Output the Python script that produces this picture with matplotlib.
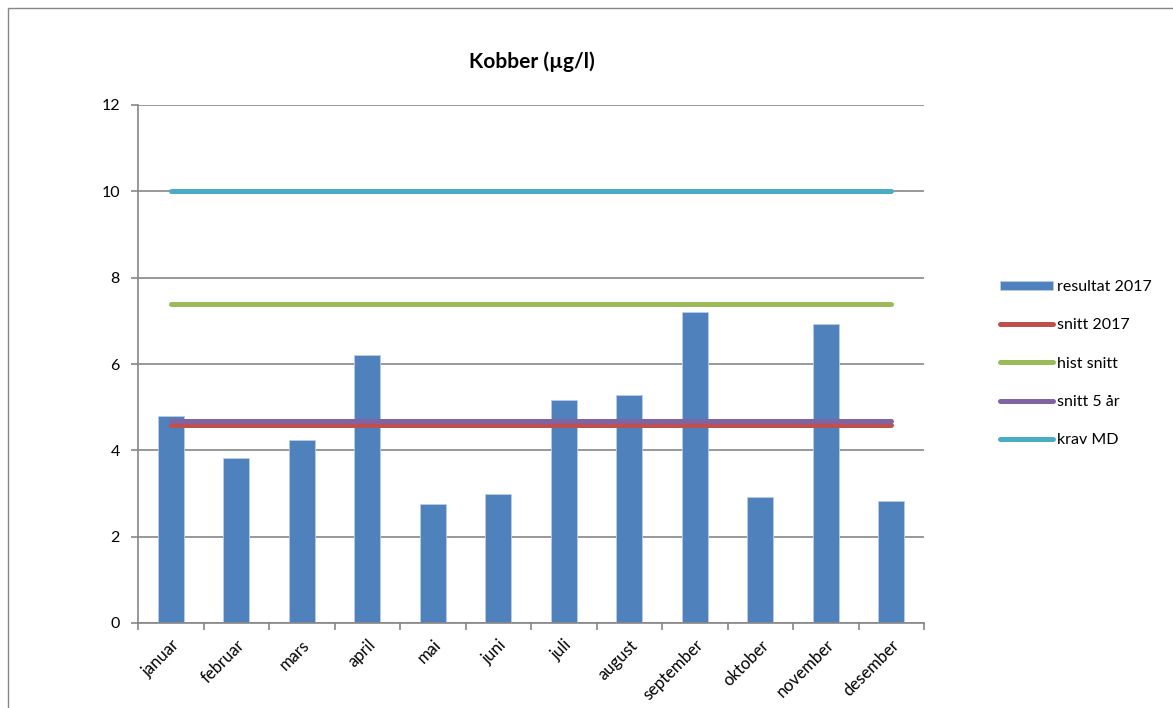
import numpy as np
import matplotlib.pyplot as plt
import matplotlib.patches as mpatches

# data
months = ["januar", "februar", "mars", "april", "mai", "juni",
          "juli", "august", "september", "oktober", "november", "desember"]
resultat_2017 = [4.80, 3.83, 4.24, 6.21, 2.76, 3.00, 5.17, 5.28, 7.21, 2.92, 6.93, 2.83]
snitt_2017 = [4.58] * 12
hist_snitt = [7.39] * 12
snitt_5_ar = [4.68] * 12
krav_md = [10.0] * 12
y_ticks = [0, 2, 4, 6, 8, 10, 12]

plt.rcParams['font.family'] = ['Lato', 'DejaVu Sans']

fig = plt.figure(figsize=(11.73, 7.08), dpi=100)
ax = fig.add_axes([138/1173, 1 - 623/708, (924-138)/1173, (623-105)/708])

x = np.arange(len(months))
grid_col = "#868686"
lw = 3.6

# bars
bars = ax.bar(x, resultat_2017, width=0.4, color="#4F81BD", edgecolor="#B9CDE5",
              linewidth=0.6, label="resultat 2017", zorder=2)

# average / requirement lines
l1, = ax.plot(x, snitt_2017, color="#C0504D", lw=lw, solid_capstyle="round", label="snitt 2017", zorder=3)
l2, = ax.plot(x, hist_snitt, color="#9BBB59", lw=lw, solid_capstyle="round", label="hist snitt", zorder=3)
l3, = ax.plot(x, snitt_5_ar, color="#8064A2", lw=lw, solid_capstyle="round", label="snitt 5 år", zorder=4)
l4, = ax.plot(x, krav_md, color="#4BACC6", lw=lw, solid_capstyle="round", label="krav MD", zorder=3)

ax.set_xlim(-0.5, len(months) - 0.5)
ax.set_ylim(0, 12)
ax.set_yticks(y_ticks)
ax.set_yticklabels([str(v) for v in y_ticks], fontsize=11.5)
ax.yaxis.grid(True, color=grid_col, lw=1.2, zorder=0)
ax.set_axisbelow(True)

# ticks between categories, labels at category centers
ax.set_xticks(np.arange(-0.5, len(months) + 0.5, 1))
ax.set_xticklabels([])
ax.set_xticks(x, minor=True)
ax.set_xticklabels(months, minor=True, rotation=45, ha="right",
                   rotation_mode="anchor", fontsize=12)
ax.tick_params(axis="x", which="minor", length=0, pad=10)
ax.tick_params(axis="x", which="major", length=5, color=grid_col, width=1.2)
ax.tick_params(axis="y", length=5, color=grid_col, width=1.2, pad=8)

for s in ["top", "right"]:
    ax.spines[s].set_visible(False)
for s in ["left", "bottom"]:
    ax.spines[s].set_color(grid_col)
    ax.spines[s].set_linewidth(1.2)

fig.text(0.4535, 1 - 62/708, "Kobber (µg/l)", ha="center", va="center",
         fontsize=15, fontweight="bold")

leg = fig.legend([bars, l1, l2, l3, l4],
                 ["resultat 2017", "snitt 2017", "hist snitt", "snitt 5 år", "krav MD"],
                 loc="upper left", bbox_to_anchor=(992/1173, 1 - 272/708),
                 frameon=False, fontsize=11.5, handlelength=3.3, handletextpad=0.25,
                 labelspacing=1.52, borderpad=0, handleheight=0.5)
for h in leg.legend_handles[1:]:
    h.set_solid_capstyle("round")

# outer chart border
fig.patches.append(mpatches.Rectangle((8/1173, -0.05), 1.1, 1 - 8/708 + 0.05,
                                      transform=fig.transFigure, fill=False,
                                      edgecolor="#868686", lw=1))

fig.savefig("out.png", dpi=100)
